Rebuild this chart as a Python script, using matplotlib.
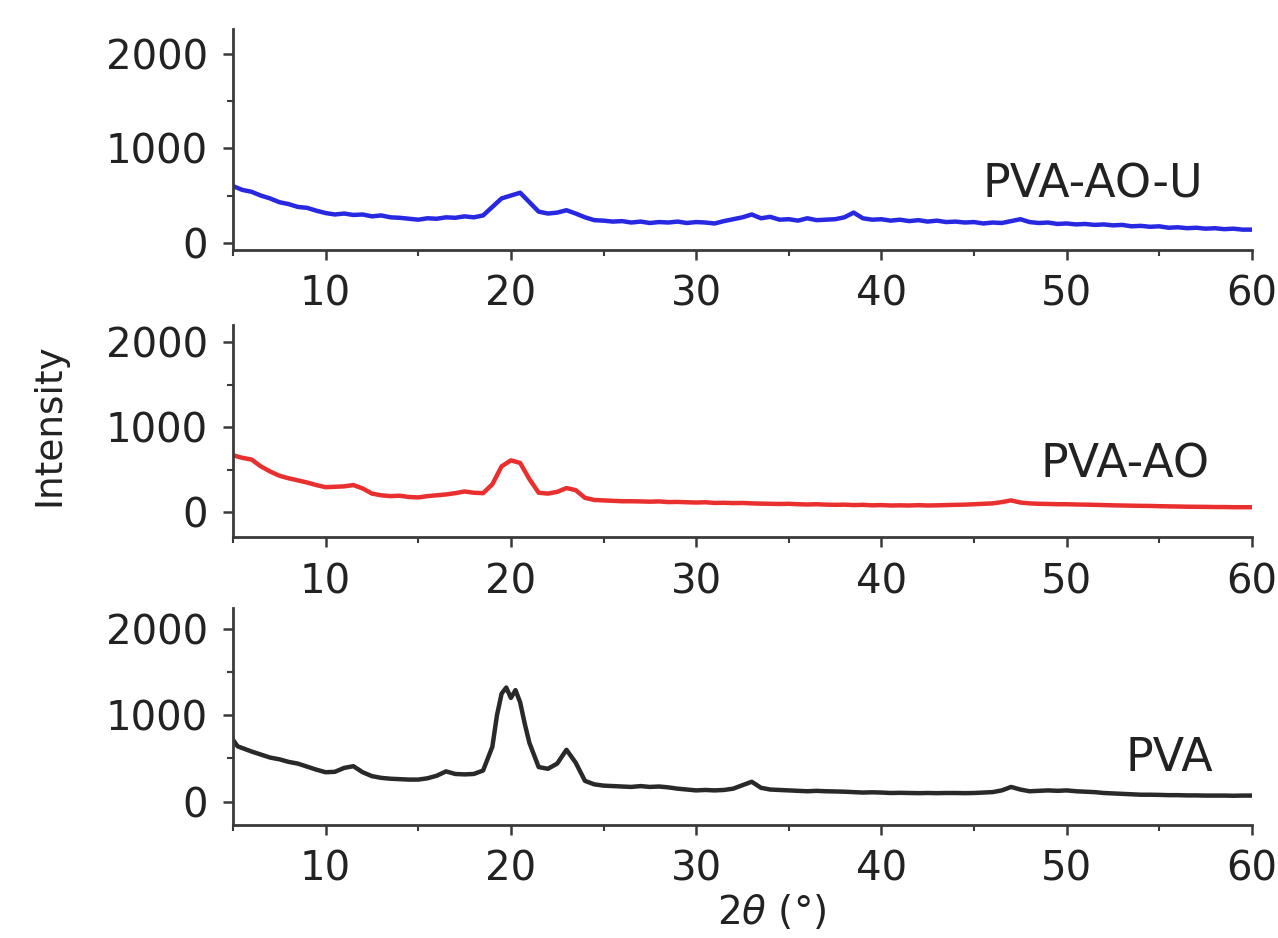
import matplotlib
matplotlib.use("Agg")
import matplotlib.pyplot as plt
from matplotlib.ticker import MultipleLocator, FixedLocator

plt.rcParams['font.family'] = ['DejaVu Sans']

# 2theta grid (deg), 0.5 step
angle = [5.0 + 0.5 * i for i in range(111)]

# PVA-AO-U (blue)
pva_ao_u = [600, 560, 540, 500, 470, 430, 410, 380, 370, 340,
            315, 300, 310, 295, 300, 280, 290, 270, 265, 255,
            245, 260, 255, 270, 265, 280, 270, 290, 380, 470,
            500, 530, 430, 330, 310, 320, 345, 310, 270, 240,
            235, 225, 230, 215, 225, 210, 220, 215, 225, 210,
            220, 215, 205, 230, 250, 270, 300, 260, 275, 245,
            250, 235, 260, 240, 245, 250, 270, 320, 260, 245,
            250, 235, 245, 230, 240, 225, 235, 220, 225, 215,
            220, 205, 215, 210, 230, 250, 220, 210, 215, 200,
            205, 195, 200, 190, 195, 185, 190, 175, 180, 170,
            175, 160, 165, 155, 160, 150, 155, 145, 150, 140,
            140]

# PVA-AO (red)
pva_ao = [670, 640, 620, 540, 480, 430, 400, 375, 350, 320,
          295, 300, 305, 320, 280, 220, 200, 190, 195, 180,
          175, 190, 200, 210, 225, 245, 230, 225, 330, 540,
          610, 580, 390, 230, 220, 240, 285, 260, 170, 145,
          140, 135, 130, 130, 128, 125, 128, 120, 122, 118,
          115, 118, 110, 112, 108, 110, 105, 102, 100, 98,
          100, 95, 92, 95, 90, 88, 90, 85, 88, 82,
          85, 80, 82, 80, 84, 80, 82, 85, 88, 90,
          95, 100, 105, 120, 140, 115, 105, 100, 98, 95,
          95, 92, 90, 88, 85, 82, 80, 78, 76, 75,
          72, 70, 68, 66, 65, 64, 62, 62, 60, 60,
          60]

# PVA (black) - finer sampling around the main peak
pva_angle = [5.0, 5.25, 5.5, 6.0, 6.5, 7.0, 7.5, 8.0, 8.5, 9.0, 9.5,
             10.0, 10.5, 11.0, 11.5, 12.0, 12.5, 13.0, 13.5, 14.0, 14.5,
             15.0, 15.5, 16.0, 16.5, 17.0, 17.5, 18.0, 18.5, 19.0, 19.25,
             19.5, 19.75, 20.0, 20.25, 20.5, 20.75, 21.0, 21.5, 22.0, 22.5,
             23.0, 23.5, 24.0, 24.5, 25.0, 25.5, 26.0, 26.5, 27.0, 27.5,
             28.0, 28.5, 29.0, 29.5, 30.0, 30.5, 31.0, 31.5, 32.0, 32.5,
             33.0, 33.5, 34.0, 34.5, 35.0, 35.5, 36.0, 36.5, 37.0, 37.5,
             38.0, 38.5, 39.0, 39.5, 40.0, 40.5, 41.0, 41.5, 42.0, 42.5,
             43.0, 43.5, 44.0, 44.5, 45.0, 45.5, 46.0, 46.5, 47.0, 47.5,
             48.0, 48.5, 49.0, 49.5, 50.0, 50.5, 51.0, 51.5, 52.0, 52.5,
             53.0, 53.5, 54.0, 54.5, 55.0, 55.5, 56.0, 56.5, 57.0, 57.5,
             58.0, 58.5, 59.0, 59.5, 60.0]
pva = [715, 640, 620, 580, 545, 510, 490, 460, 440, 405, 370,
       340, 345, 390, 410, 340, 295, 275, 265, 260, 255,
       255, 270, 300, 350, 320, 315, 320, 360, 635, 1000,
       1250, 1320, 1200, 1290, 1150, 900, 680, 400, 380, 440,
       600, 450, 240, 200, 185, 180, 175, 170, 180, 170,
       175, 165, 150, 140, 130, 135, 130, 135, 150, 190,
       230, 160, 140, 135, 130, 125, 120, 125, 120, 118,
       115, 110, 105, 108, 105, 100, 102, 100, 98, 100,
       98, 100, 100, 98, 100, 105, 110, 130, 170, 140,
       120, 125, 130, 125, 130, 120, 115, 110, 100, 95,
       90, 85, 80, 80, 78, 75, 75, 72, 72, 70,
       70, 70, 68, 70, 70]

labels = ['PVA-AO-U', 'PVA-AO', 'PVA']
colors = ['#1010e0', '#e81818', '#111111']
ylims = [(-75, 2260), (-290, 2200), (-270, 2240)]
label_pos = [(57.35, 610), (57.7, 560), (57.9, 500)]

fig = plt.figure(figsize=(12.78, 9.38), dpi=100)
boxes = [[0.1823, 0.7335, 0.7973, 0.2356],
         [0.1823, 0.4275, 0.7973, 0.2260],
         [0.1823, 0.1205, 0.7973, 0.2313]]

series = [(angle, pva_ao_u), (angle, pva_ao), (pva_angle, pva)]

for i in range(3):
    ax = fig.add_axes(boxes[i])
    x, y = series[i]
    ax.plot(x, y, color=colors[i], lw=3.2, alpha=0.9)
    ax.set_xlim(5, 60)
    ax.set_ylim(*ylims[i])
    for s in ['top', 'right']:
        ax.spines[s].set_visible(False)
    for s in ['left', 'bottom']:
        ax.spines[s].set_color('#3a3a3a')
        ax.spines[s].set_linewidth(2)
    ax.xaxis.set_major_locator(FixedLocator([10, 20, 30, 40, 50, 60]))
    ax.xaxis.set_minor_locator(MultipleLocator(5))
    ax.yaxis.set_major_locator(FixedLocator([0, 1000, 2000]))
    ax.yaxis.set_minor_locator(FixedLocator([500, 1500]))
    ax.tick_params(which='major', direction='out', length=7, width=1.8,
                   color='#3a3a3a', labelsize=29, labelcolor='#222222', pad=11)
    ax.tick_params(which='minor', direction='out', length=4, width=1.5, color='#3a3a3a')
    ax.text(label_pos[i][0], label_pos[i][1], labels[i], ha='right', va='center',
            fontsize=33, color='#222222')

fig.text(0.039, 0.547, 'Intensity', rotation=90, ha='center', va='center',
         fontsize=27, color='#222222')
fig.text(0.604, 0.027, r'2$\theta$ (°)', ha='center', va='center',
         fontsize=28, color='#222222')

fig.savefig('out.png', dpi=100)
